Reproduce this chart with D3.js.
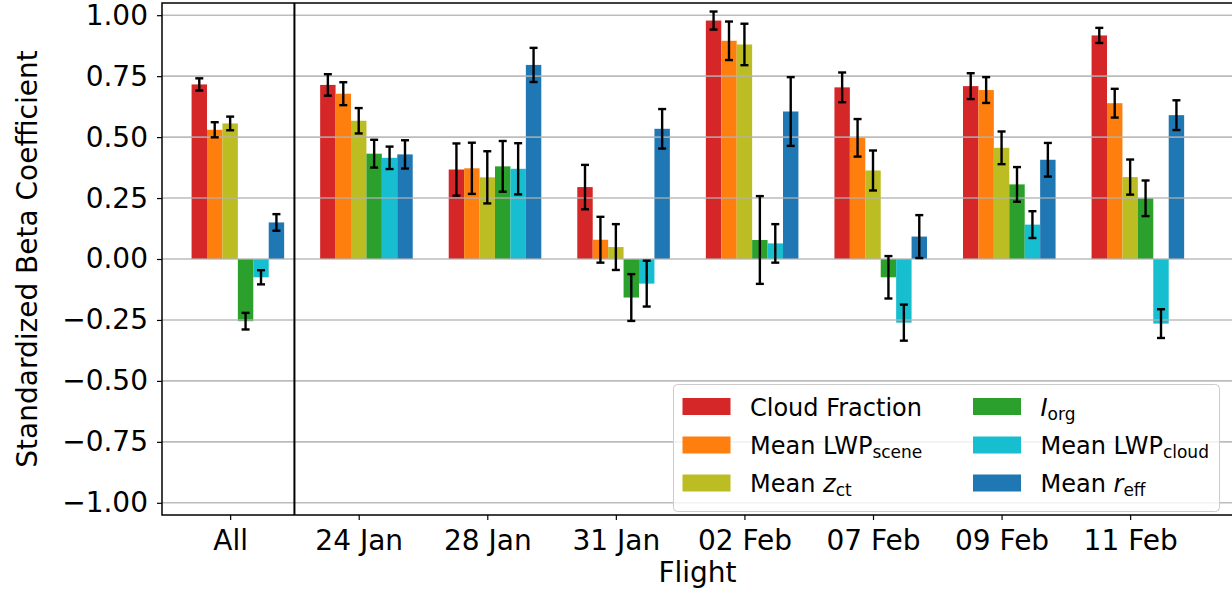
<!DOCTYPE html>
<html>
<head>
<meta charset="utf-8">
<script src="https://cdn.jsdelivr.net/npm/d3@7"></script>
<style>
  body { margin: 0; background: #fff; }
  text { font-family: "DejaVu Sans", sans-serif; }
</style>
</head>
<body>
<script>
// flights on the x axis
var flights = ["All", "24 Jan", "28 Jan", "31 Jan", "02 Feb", "07 Feb", "09 Feb", "11 Feb"];

// standardized beta coefficients, one value per flight
var cloudFraction = [0.716, 0.714, 0.367, 0.295, 0.978, 0.704, 0.709, 0.917];
var lwpScene      = [0.530, 0.678, 0.372, 0.079, 0.895, 0.497, 0.693, 0.639];
var zct           = [0.556, 0.567, 0.335, 0.049, 0.880, 0.363, 0.456, 0.336];
var iorg          = [-0.255, 0.432, 0.380, -0.158, 0.078, -0.075, 0.306, 0.249];
var lwpCloud      = [-0.075, 0.415, 0.370, -0.101, 0.064, -0.261, 0.141, -0.265];
var reff          = [0.150, 0.429, 0.796, 0.534, 0.605, 0.092, 0.407, 0.590];

// error bar half-lengths
var cloudFractionErr = [0.025, 0.044, 0.107, 0.091, 0.037, 0.061, 0.053, 0.031];
var lwpSceneErr      = [0.031, 0.047, 0.105, 0.094, 0.079, 0.077, 0.053, 0.059];
var zctErr           = [0.028, 0.052, 0.107, 0.094, 0.085, 0.082, 0.067, 0.072];
var iorgErr          = [0.034, 0.057, 0.104, 0.096, 0.180, 0.087, 0.071, 0.073];
var lwpCloudErr      = [0.029, 0.046, 0.105, 0.094, 0.079, 0.074, 0.055, 0.059];
var reffErr          = [0.034, 0.058, 0.070, 0.081, 0.141, 0.088, 0.069, 0.061];

var yTicks = [-1, -0.75, -0.5, -0.25, 0, 0.25, 0.5, 0.75, 1];

var series = [
    {values: cloudFraction, err: cloudFractionErr, color: "#d62728", label: ["Cloud Fraction"]},
    {values: lwpScene, err: lwpSceneErr, color: "#ff7f0e", label: ["Mean LWP", "scene"]},
    {values: zct, err: zctErr, color: "#bcbd22", label: ["Mean ", "z", "ct"]},
    {values: iorg, err: iorgErr, color: "#2ca02c", label: ["", "I", "org"]},
    {values: lwpCloud, err: lwpCloudErr, color: "#17becf", label: ["Mean LWP", "cloud"]},
    {values: reff, err: reffErr, color: "#1f77b4", label: ["Mean ", "r", "eff"]}
];

var W = 1232, H = 593;
var axL = 162, axR = 1233, axT = 3, axB = 515;
var barW = 0.12;
var fs = 28;

var svg = d3.select("body").append("svg").attr("width", W).attr("height", H);

var x = d3.scaleLinear().domain([-0.53, 7.80]).range([axL, axR]);
var y = d3.scaleLinear().domain([-1.05, 1.05]).range([axB, axT]);

// bars
var bars = svg.append("g");
series.forEach(function(s, k) {
    bars.selectAll(null)
        .data(s.values)
        .enter().append("rect")
        .attr("x", function(d, i) { return x(i + (k - 2) * barW - barW / 2); })
        .attr("width", x(barW) - x(0))
        .attr("y", function(d) { return y(Math.max(0, d)); })
        .attr("height", function(d) { return Math.abs(y(d) - y(0)); })
        .attr("fill", s.color);
});

// grid on top of bars
svg.append("g").selectAll("line")
    .data(yTicks)
    .enter().append("line")
    .attr("x1", axL).attr("x2", axR)
    .attr("y1", function(d) { return y(d); })
    .attr("y2", function(d) { return y(d); })
    .attr("stroke", "#b0b0b0")
    .attr("stroke-opacity", 0.85)
    .attr("stroke-width", 1.6);

// error bars
var errs = svg.append("g").attr("stroke", "#000").attr("stroke-width", 2.4);
series.forEach(function(s, k) {
    s.values.forEach(function(v, i) {
        var cx = x(i + (k - 2) * barW);
        var y1 = y(v + s.err[i]), y2 = y(v - s.err[i]);
        errs.append("line").attr("x1", cx).attr("x2", cx).attr("y1", y1).attr("y2", y2);
        errs.append("line").attr("x1", cx - 4).attr("x2", cx + 4).attr("y1", y1).attr("y2", y1);
        errs.append("line").attr("x1", cx - 4).attr("x2", cx + 4).attr("y1", y2).attr("y2", y2);
    });
});

// separator between "All" and single flights
svg.append("line")
    .attr("x1", x(0.5)).attr("x2", x(0.5))
    .attr("y1", axT).attr("y2", axB)
    .attr("stroke", "#000").attr("stroke-width", 2);

// axes
var yAxis = svg.append("g")
    .attr("transform", "translate(" + axL + ",0)")
    .call(d3.axisLeft(y).tickValues(yTicks).tickFormat(d3.format(".2f")).tickSize(5).tickPadding(9));
var xAxis = svg.append("g")
    .attr("transform", "translate(0," + axB + ")")
    .call(d3.axisBottom(x).tickValues(d3.range(flights.length)).tickFormat(function(i) { return flights[i]; }).tickSize(5).tickPadding(10));
[yAxis, xAxis].forEach(function(a) {
    a.select(".domain").remove();
    a.selectAll("text").attr("font-size", fs).attr("fill", "#000").attr("font-family", "DejaVu Sans");
    a.selectAll("line").attr("stroke", "#000").attr("stroke-width", 1.2);
});

// frame
svg.append("rect")
    .attr("x", axL).attr("y", axT)
    .attr("width", axR - axL).attr("height", axB - axT)
    .attr("fill", "none").attr("stroke", "#000").attr("stroke-width", 1.5);

// axis labels
svg.append("text")
    .attr("x", (axL + axR) / 2).attr("y", 582)
    .attr("text-anchor", "middle").attr("font-size", fs)
    .text("Flight");
svg.append("text")
    .attr("transform", "translate(37," + (axT + axB) / 2 + ") rotate(-90)")
    .attr("text-anchor", "middle").attr("font-size", fs)
    .text("Standardized Beta Coefficient");

// legend
var legend = svg.append("g");
legend.append("rect")
    .attr("x", 673.5).attr("y", 384.5)
    .attr("width", 546).attr("height", 127)
    .attr("rx", 4)
    .attr("fill", "#fff").attr("fill-opacity", 0.8)
    .attr("stroke", "#cccccc").attr("stroke-width", 1);

var colX = [682.5, 973], rowY = [398, 436.5, 474.5];
series.forEach(function(s, k) {
    var c = Math.floor(k / 3), r = k % 3;
    var g = legend.append("g").attr("transform", "translate(" + colX[c] + "," + rowY[r] + ")");
    g.append("rect").attr("width", 48).attr("height", 17).attr("fill", s.color);
    var t = g.append("text").attr("x", 67.5).attr("y", 17.5).attr("font-size", 24);
    if (s.label.length === 1) {
        t.text(s.label[0]);
    } else if (s.label.length === 2) {
        t.append("tspan").text(s.label[0]);
        t.append("tspan").attr("font-size", 17).attr("dy", 4).text(s.label[1]);
    } else {
        t.append("tspan").text(s.label[0]);
        t.append("tspan").attr("font-style", "italic").text(s.label[1]);
        t.append("tspan").attr("font-size", 17).attr("dy", 4).text(s.label[2]);
    }
});
</script>
</body>
</html>
